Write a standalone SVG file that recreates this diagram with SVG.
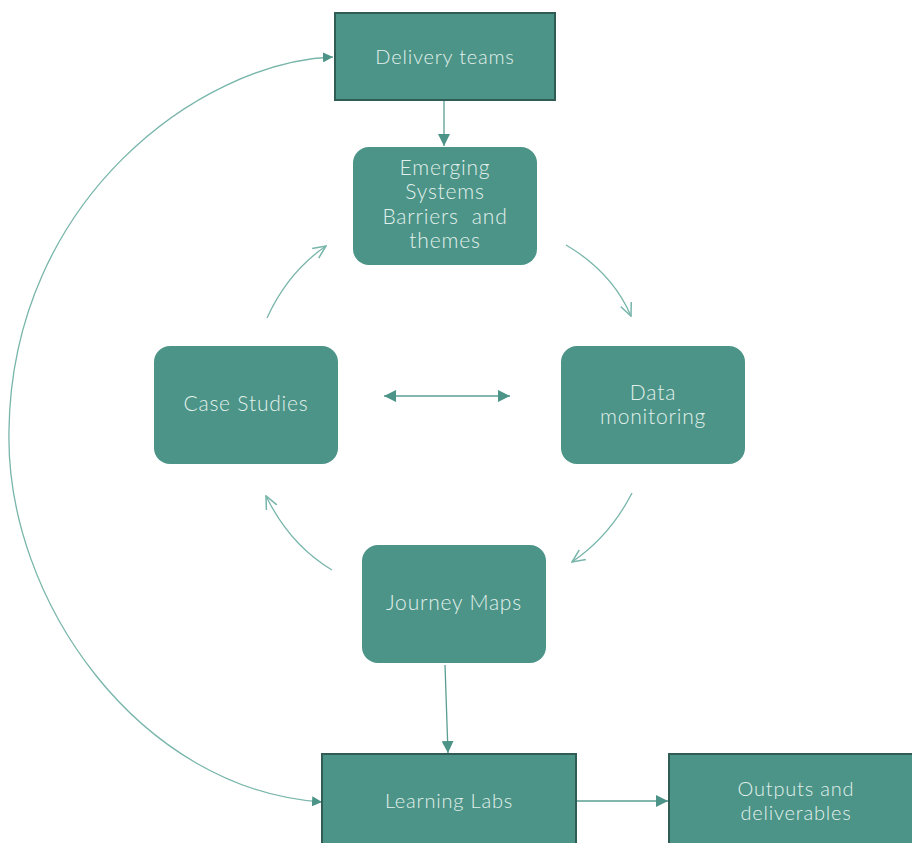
<svg xmlns="http://www.w3.org/2000/svg" width="912" height="843" viewBox="0 0 912 843">
<defs>
<style>
.box{fill:#4b9487;}
.sq{fill:#4b9487;stroke:#2f5c54;stroke-width:2;}
.t{font-family:Lato,"Open Sans",sans-serif;font-weight:300;font-size:21px;letter-spacing:0.8px;fill:#e2f0ec;text-anchor:middle;}
.s{font-size:20px;letter-spacing:0.8px;}
.c{fill:none;stroke:#5a9e92;stroke-width:1.3;}
.cv{fill:none;stroke:#78b5aa;stroke-width:1.3;}
</style>
<marker id="tri" viewBox="0 0 10 10" refX="10" refY="5" markerWidth="10" markerHeight="10" markerUnits="userSpaceOnUse" orient="auto-start-reverse">
<path d="M0,0 L10,5 L0,10 Z" fill="#4b9487"/>
</marker>
<marker id="tri2" viewBox="0 0 10 10" refX="10" refY="5" markerWidth="12" markerHeight="12" markerUnits="userSpaceOnUse" orient="auto-start-reverse">
<path d="M0,0 L10,5 L0,10 Z" fill="#4b9487"/>
</marker>
<marker id="vee" viewBox="0 0 12 12" refX="11" refY="6" markerWidth="14" markerHeight="14" markerUnits="userSpaceOnUse" orient="auto">
<path d="M0,1 L11,6 L0,11" fill="none" stroke="#78b5aa" stroke-width="1.3"/>
</marker>
</defs>
<rect width="912" height="843" fill="#ffffff"/>
<g id="connectors">
<path class="c" d="M444,101 L444,146" marker-end="url(#tri2)"/>
<path class="c" d="M445,665 L448,753" marker-end="url(#tri2)"/>
<path class="c" d="M577,801 L668,801" marker-end="url(#tri2)"/>
<path class="c" d="M384,396 L510,396" marker-start="url(#tri2)" marker-end="url(#tri2)"/>
<path class="cv" d="M333,57 C200,62 12,200 9,430 C5,600 140,790 322,802" marker-start="url(#tri)" marker-end="url(#tri)"/>
<path class="cv" d="M267,318 Q288,272 326,246" marker-end="url(#vee)"/>
<path class="cv" d="M566,245 Q612,272 631,316" marker-end="url(#vee)"/>
<path class="cv" d="M632,493 Q610,536 572,562" marker-end="url(#vee)"/>
<path class="cv" d="M332,570 Q290,545 266,496" marker-end="url(#vee)"/>
</g>
<g id="delivery-teams">
<rect class="sq" x="335" y="13" width="220" height="87"/>
<text class="t s" x="445" y="64">Delivery teams</text>
</g>
<g id="emerging-systems">
<rect class="box" x="353" y="147" width="184" height="118" rx="16"/>
<text class="t" x="445" y="175">Emerging</text>
<text class="t" x="445" y="199">Systems</text>
<text class="t" x="445" y="224" xml:space="preserve">Barriers  and</text>
<text class="t" x="445" y="248">themes</text>
</g>
<g id="case-studies">
<rect class="box" x="154" y="346" width="184" height="118" rx="16"/>
<text class="t" x="246" y="411">Case Studies</text>
</g>
<g id="data-monitoring">
<rect class="box" x="561" y="346" width="184" height="118" rx="16"/>
<text class="t" x="653" y="400">Data</text>
<text class="t" x="653" y="424">monitoring</text>
</g>
<g id="journey-maps">
<rect class="box" x="362" y="545" width="184" height="118" rx="16"/>
<text class="t" x="454" y="610">Journey Maps</text>
</g>
<g id="learning-labs">
<rect class="sq" x="322" y="754" width="254" height="100"/>
<text class="t s" x="449" y="808">Learning Labs</text>
</g>
<g id="outputs">
<rect class="sq" x="669" y="754" width="260" height="100"/>
<text class="t s" x="796" y="796">Outputs and</text>
<text class="t s" x="796" y="820">deliverables</text>
</g>
</svg>
